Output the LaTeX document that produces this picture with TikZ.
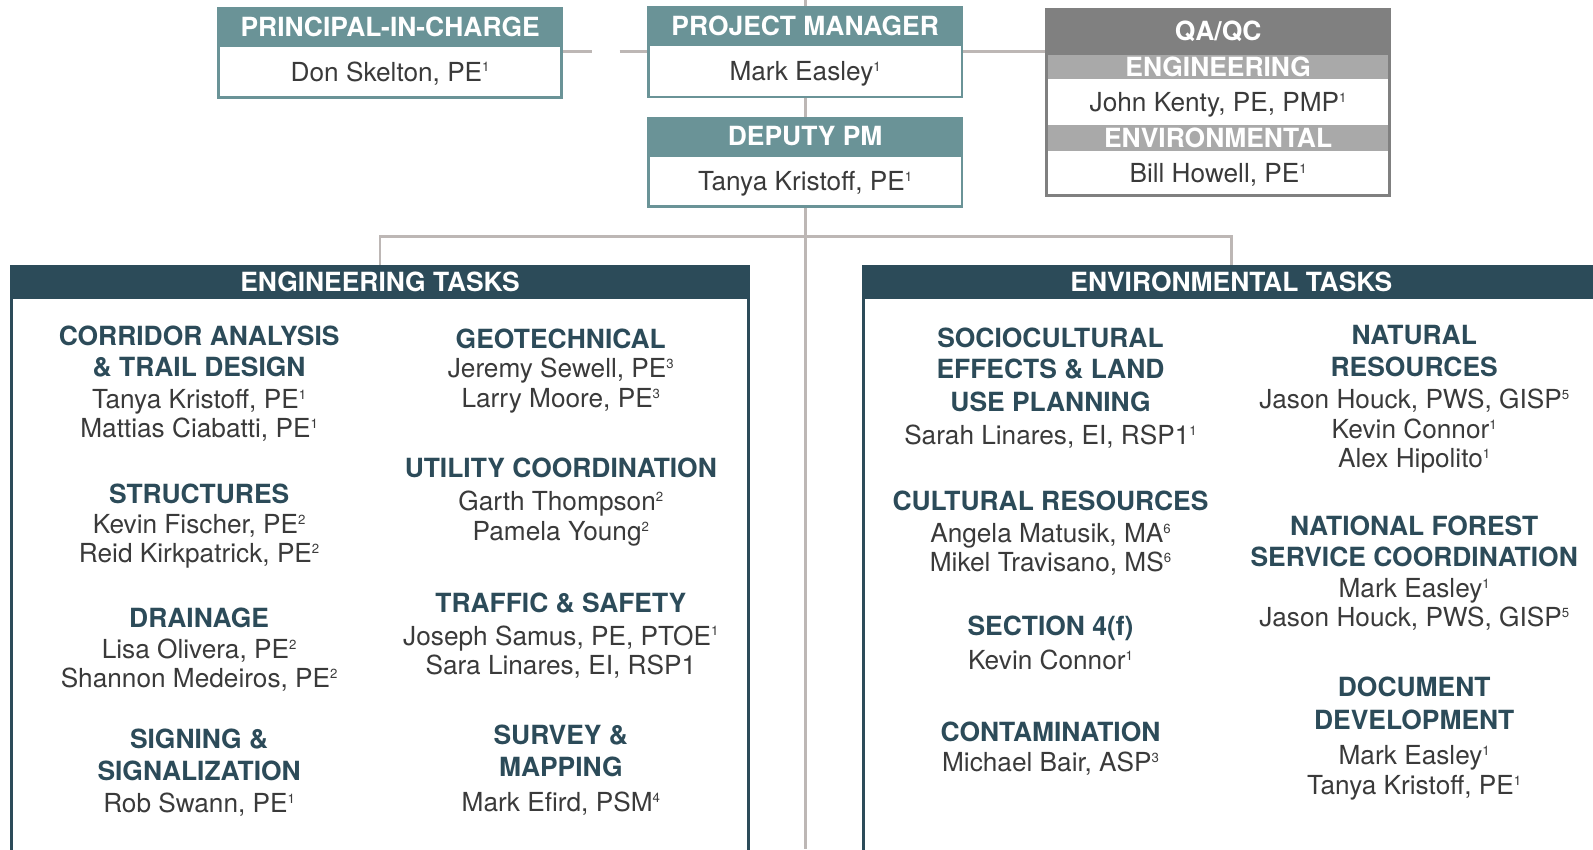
\documentclass[tikz,border=0pt]{standalone}
\usepackage{fontspec}
\setmainfont{TeX Gyre Heros}
\usetikzlibrary{positioning,backgrounds}

\definecolor{headteal}{HTML}{6A9397}
\definecolor{taskblue}{HTML}{2C4B59}
\definecolor{qadark}{HTML}{808080}
\definecolor{qalight}{HTML}{A9A9A9}
\definecolor{linkgray}{HTML}{BDB7B5}
\definecolor{nametext}{HTML}{3A3A3A}

\newcommand{\fn}[1]{\raisebox{9pt}{\fontsize{13}{13}\selectfont #1}}
\newcommand{\hd}[1]{{\bfseries\fontsize{26}{29}\selectfont\color{taskblue}#1}}

\begin{document}
\begin{tikzpicture}[x=1pt,y=1pt,
    every node/.style={font=\fontsize{25.8}{29}\selectfont,text=nametext,inner sep=0pt,outer sep=0pt},
    boxhead/.style={fill=headteal,text=white,font=\fontsize{26}{29}\selectfont\bfseries,minimum height=38},
    boxbody/.style={draw=headteal,line width=2.5,fill=white,minimum height=51,text height=18.5,text depth=0},
    qahead/.style={fill=qadark,text=white,font=\fontsize{26}{29}\selectfont\bfseries,minimum width=340.5},
    qabar/.style={fill=qalight,text=white,font=\fontsize{26}{29}\selectfont\bfseries,minimum width=337.5},
    qabody/.style={fill=white,minimum width=337.5,text height=18.5,text depth=0},
    taskhead/.style={fill=taskblue,text=white,font=\fontsize{26}{29}\selectfont\bfseries,minimum width=728,minimum height=33},
    taskframe/.style={draw=taskblue,line width=3},
    task/.style={align=center,anchor=north},
    link/.style={draw=linkgray,line width=2.8}]

  \useasboundingbox (0,0) rectangle (1568,-836);
  \clip (0,0) rectangle (1568,-836);

  % top boxes
  \node[boxhead,minimum width=340] (pichead) at (384,-26) {PRINCIPAL-IN-CHARGE};
  \node[boxbody,minimum width=337.5,below=0pt of pichead] (picbody) {Don Skelton, PE\fn{1}};
  \node[boxhead,minimum width=311] (pmhead) at (792.5,-25) {PROJECT MANAGER};
  \node[boxbody,minimum width=308.5,minimum height=51.5,below=0pt of pmhead] (pmbody) {Mark Easley\fn{1}};
  \node[boxhead,minimum width=311] (dpmhead) at (792.5,-134) {DEPUTY PM};
  \node[boxbody,minimum width=308.5,minimum height=50,below=0pt of dpmhead] (dpmbody) {Tanya Kristoff, PE\fn{1}};

  % qa/qc box
  \node[qahead,minimum height=46] (qaqc) at (1199,-31) {QA/QC};
  \node[qabar,minimum height=24,below=0pt of qaqc] (qaeng) {ENGINEERING};
  \node[qabody,minimum height=45,below=0pt of qaeng] (qaengbody) {John Kenty, PE, PMP\fn{1}};
  \node[qabar,minimum height=26,below=0pt of qaengbody] (qaenv) {ENVIRONMENTAL};
  \node[qabody,minimum height=43,below=0pt of qaenv] (qaenvbody) {Bill Howell, PE\fn{1}};
  \draw[qadark,line width=3] (qaeng.north west) |- (qaenvbody.south) -| (qaeng.north east);

  % task boxes
  \node[taskhead] (enghead) at (374,-277.5) {ENGINEERING TASKS};
  \node[taskhead] (envhead) at (1212,-277.5) {ENVIRONMENTAL TASKS};
  \fill[taskblue] (envhead.north east) rectangle ([xshift=20]envhead.south east);
  \draw[taskframe] ([xshift=1.5]enghead.south west) -- ++(0,-560);
  \draw[taskframe] ([xshift=-1.5]enghead.south east) -- ++(0,-560);
  \draw[taskframe] ([xshift=1.5]envhead.south west) -- ++(0,-560);

  % engineering tasks
  \node[task] (corridor) at (196,-320.6) {\hd{CORRIDOR ANALYSIS}\\[2pt]\hd{\& TRAIL DESIGN}\\[2pt]Tanya Kristoff, PE\fn{1}\\Mattias Ciabatti, PE\fn{1}};
  \node[task] (structures) at (196,-476.6) {\hd{STRUCTURES}\\Kevin Fischer, PE\fn{2}\\Reid Kirkpatrick, PE\fn{2}};
  \node[task] (drainage) at (196,-598.6) {\hd{DRAINAGE}\\[1pt]Lisa Olivera, PE\fn{2}\\Shannon Medeiros, PE\fn{2}};
  \node[task] (signing) at (196,-717.6) {\hd{SIGNING \&}\\[2pt]\hd{SIGNALIZATION}\\[3pt]Rob Swann, PE\fn{1}};
  \node[task] (geotech) at (552,-323.6) {\hd{GEOTECHNICAL}\\Jeremy Sewell, PE\fn{3}\\Larry Moore, PE\fn{3}};
  \node[task] (utility) at (552,-450.6) {\hd{UTILITY COORDINATION}\\[4pt]Garth Thompson\fn{2}\\Pamela Young\fn{2}};
  \node[task] (traffic) at (552,-583.6) {\hd{TRAFFIC \& SAFETY}\\[3pt]Joseph Samus, PE, PTOE\fn{1}\\Sara Linares, EI, RSP1};
  \node[task] (survey) at (552,-713.6) {\hd{SURVEY \&}\\[2pt]\hd{MAPPING}\\[6pt]Mark Efird, PSM\fn{4}};

  % environmental tasks
  \node[task] (socio) at (1034,-322.6) {\hd{SOCIOCULTURAL}\\[2pt]\hd{EFFECTS \& LAND}\\[3pt]\hd{USE PLANNING}\\[4pt]Sarah Linares, EI, RSP1\fn{1}};
  \node[task] (cultural) at (1034,-483.6) {\hd{CULTURAL RESOURCES}\\[2pt]Angela Matusik, MA\fn{6}\\Mikel Travisano, MS\fn{6}};
  \node[task] (section) at (1034,-606.6) {\hd{SECTION 4(f)}\\[4pt]Kevin Connor\fn{1}};
  \node[task] (contam) at (1034,-710.6) {\hd{CONTAMINATION}\\[1pt]Michael Bair, ASP\fn{3}};
  \node[task] (natural) at (1392,-320.6) {\hd{NATURAL}\\[2pt]\hd{RESOURCES}\\[3pt]Jason Houck, PWS, GISP\fn{5}\\Kevin Connor\fn{1}\\Alex Hipolito\fn{1}};
  \node[task] (nforest) at (1392,-507.6) {\hd{NATIONAL FOREST}\\[2pt]\hd{SERVICE COORDINATION}\\[1pt]Mark Easley\fn{1}\\Jason Houck, PWS, GISP\fn{5}};
  \node[task] (document) at (1392,-666.6) {\hd{DOCUMENT}\\[3pt]\hd{DEVELOPMENT}\\[6pt]Mark Easley\fn{1}\\Tanya Kristoff, PE\fn{1}};

  % connectors
  \coordinate (top) at (792.5,0);
  \coordinate (bottom) at (792.5,-836);
  \coordinate (gapL) at (583,-51);
  \coordinate (gapR) at (610,-51);
  \coordinate (branch) at (792.5,-233);
  \begin{pgfonlayer}{background}
    \draw[link] (top) -- (pmhead.north);
    \draw[link] (pmbody.south) -- (dpmhead.north);
    \draw[link] (dpmbody.south) -- (bottom);
    \draw[link] (enghead.north) |- (branch) -| (envhead.north);
    \draw[link] (picbody.east |- gapL) -- (gapL);
    \draw[link] (gapR) -- (pmbody.west |- gapR);
    \draw[link] (pmbody.east |- gapR) -- (qaqc.west |- gapR);
  \end{pgfonlayer}
\end{tikzpicture}
\end{document}
